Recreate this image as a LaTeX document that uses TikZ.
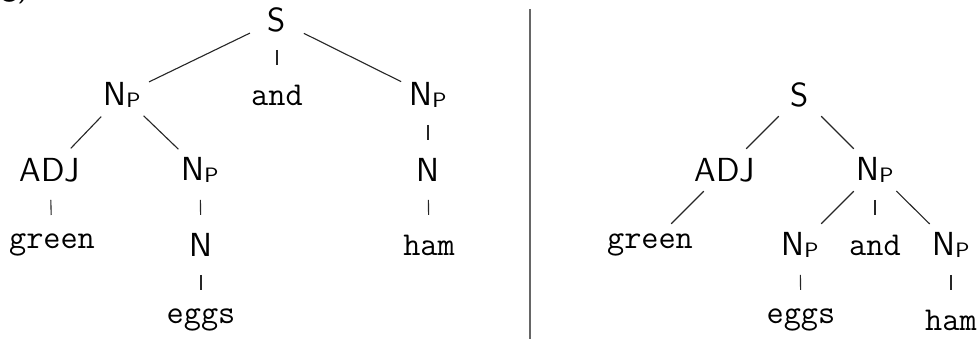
\documentclass[tikz,border=0pt]{standalone}
\usepackage{tikz}

\newcommand\NPsub{N\raisebox{-0.6pt}{\fontsize{7.5}{8}\selectfont P}}

\begin{document}
\begin{tikzpicture}[
    x=0.36pt, y=-0.36pt,
    cat/.style={font=\sffamily\fontsize{12}{14}\selectfont, inner sep=0pt},
    word/.style={font=\ttfamily\fontsize{12}{14}\selectfont, inner sep=0pt},
    edge/.style={draw=black!85, line width=0.4pt, shorten <=10.8pt, shorten >=10.8pt},
    divider/.style={draw=black!60, line width=0.7pt}
]
\useasboundingbox (0,0) rectangle (978,339);
\clip (0,0) rectangle (978,339);
% etichetta tagliata in alto
\node[cat, anchor=base west] (lab) at (1,-4) {g)};

% albero di sinistra
\node[cat]  (sL)     at (277,20)  {S};
\node[cat]  (npL)    at (122,95)  {\NPsub};
\node[word] (andL)   at (277,95)  {and};
\node[cat]  (npLr)   at (428,95)  {\NPsub};
\node[cat]  (adjL)   at (50,170)  {ADJ};
\node[cat]  (npLm)   at (200,170) {\NPsub};
\node[cat]  (nLr)    at (428,170) {N};
\node[word] (greenL) at (52,245)  {green};
\node[cat]  (nLm)    at (201,245) {N};
\node[word] (hamL)   at (429,245) {ham};
\node[word] (eggsL)  at (201,320) {eggs};

% albero di destra
\node[cat]  (sR)     at (800,95)  {S};
\node[cat]  (adjR)   at (725,170) {ADJ};
\node[cat]  (npR)    at (875,170) {\NPsub};
\node[word] (greenR) at (650,245) {green};
\node[cat]  (npRl)   at (800,245) {\NPsub};
\node[word] (andR)   at (875,245) {and};
\node[cat]  (npRr)   at (951,245) {\NPsub};
\node[word] (eggsR)  at (801,320) {eggs};
\node[word] (hamR)   at (951,320) {ham};

\foreach \a/\b in {sL/npL, sL/andL, sL/npLr, npL/adjL, npL/npLm, npLr/nLr,
                   adjL/greenL, npLm/nLm, nLr/hamL, nLm/eggsL,
                   sR/adjR, sR/npR, adjR/greenR, npR/npRl, npR/andR, npR/npRr,
                   npRl/eggsR, npRr/hamR}
    \draw[edge] (\a.center) -- (\b.center);

% separatore
\coordinate (divtop) at (530,9);
\coordinate (divbot) at (530,339);
\draw[divider] (divtop) -- (divbot);
\end{tikzpicture}
\end{document}
